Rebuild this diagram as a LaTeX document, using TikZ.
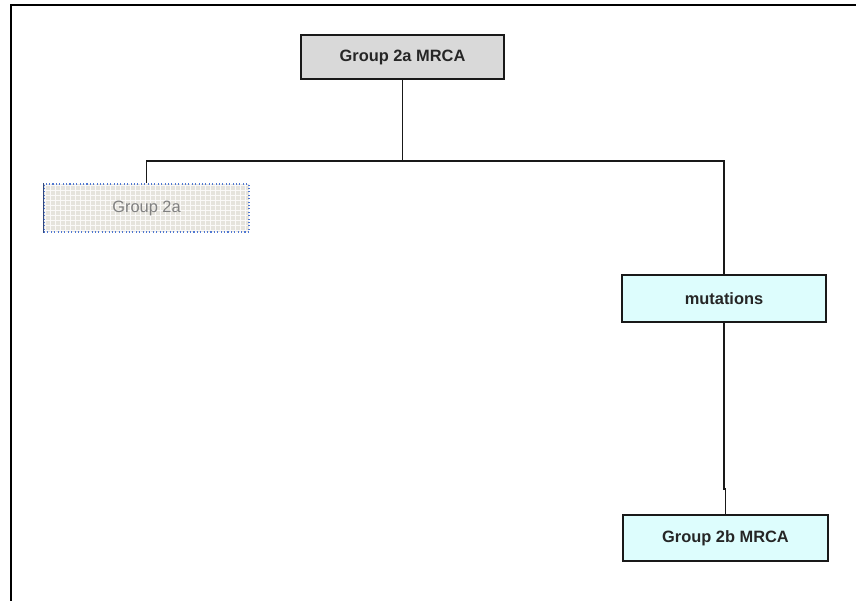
\documentclass[tikz,border=0pt]{standalone}
\usepackage{fontspec}
\setmainfont{Liberation Sans}
\usetikzlibrary{calc}
\definecolor{mrcagray}{RGB}{217,217,217}
\definecolor{mutcyan}{RGB}{221,253,253}
\definecolor{gridbeige}{RGB}{229,227,220}
\definecolor{selblue}{RGB}{80,120,210}
\tikzset{
	box/.style={draw=black!90, line width=1.1pt, minimum width=6.12cm, minimum height=1.38cm, inner sep=0pt, text=black!85, font=\fontsize{14}{16}\selectfont\bfseries},
	link/.style={line width=1.4pt, color=black!90}
}

\begin{document}
\begin{tikzpicture}[x=0.03cm, y=-0.03cm]
			%%%%% START %%%%%
			\useasboundingbox (0, 0) rectangle (856, 601);
			
			\draw[line width=2.4pt] (11, 601) -- (11, 5) -- (856, 5);
			
			\node[box, fill=mrcagray, minimum width=6.09cm, minimum height=1.32cm] (top) at (402.5, 57) {Group 2a MRCA};
			\node[box, fill=mutcyan, minimum width=6.12cm, minimum height=1.41cm] (mut) at (724, 298.5) {mutations};
			\node[box, fill=mutcyan, minimum width=6.15cm, minimum height=1.38cm] (g2b) at (725.5, 538) {Group 2b MRCA};
			
			% selected box, grid fill
			\fill[gridbeige] (44, 184) rectangle (249, 232);
			\draw[white!80!gridbeige, line width=0.3pt, step=0.15cm] (44, 184) grid (249, 232);
			\node[draw=selblue, dotted, line width=0.9pt, minimum width=6.15cm, minimum height=1.44cm, inner sep=0pt, text=black!50, font=\fontsize{14}{16}\selectfont] (g2a) at (146.5, 208) {Group 2a};
			\draw[selblue!60!black, line width=1.6pt] (g2a.south west) -- (g2a.north west);
			
			\coordinate (split) at (402.5, 161);
			\coordinate (jog) at (724, 489);
			
			\draw[link] (top.south) -- (split);
			\draw[link] (g2a.north) |- (split) -| (mut.north);
			\draw[link] (mut.south) -- (jog) -| (g2b.north);
			
			%%%%% END %%%%%
		\end{tikzpicture}
\end{document}
